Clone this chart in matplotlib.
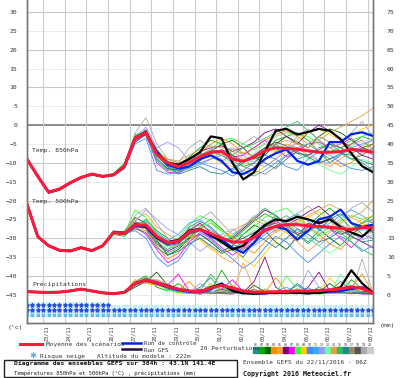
import matplotlib.pyplot as plt
import numpy as np
from matplotlib.patches import Rectangle
from matplotlib.transforms import ScaledTranslation

plt.rcParams["font.family"] = ["DejaVu Sans Mono"]

# forecast steps (hours after 22/11/2016 06Z), 12h resolution
hours = np.arange(0, 385, 12)
day_labels = ["23/11", "24/11", "25/11", "26/11", "27/11", "28/11", "29/11", "30/11",
              "01/12", "02/12", "03/12", "04/12", "05/12", "06/12", "07/12", "08/12"]
day_hours = np.arange(18, 384, 24)

# --- 850 hPa temperature (°C)
t850_mean = [-9.0, -13.6, -17.8, -17.0, -15.3, -13.9, -13.0, -13.6, -13.2, -11.0, -3.5, -2.0, -7.7,
             -10.0, -11.0, -10.0, -8.3, -7.2, -7.0, -9.0, -9.6, -8.5, -6.8, -6.0, -6.2, -6.4, -6.8,
             -7.2, -7.2, -7.0, -6.4, -6.8, -7.2]
t850_ctrl = [-9.0, -13.6, -17.8, -17.0, -15.3, -13.9, -13.0, -13.6, -13.2, -11.0, -3.6, -2.2, -7.0,
             -10.5, -11.5, -11.0, -9.0, -8.0, -9.5, -12.5, -13.0, -11.5, -9.0, -7.5, -6.4, -9.5, -10.5,
             -9.5, -4.5, -4.5, -2.4, -1.9, -2.9]
t850_gfs = [-9.0, -13.6, -17.8, -17.0, -15.3, -13.9, -13.0, -13.6, -13.2, -11.0, -3.4, -1.8, -7.5,
            -10.0, -10.5, -9.0, -7.2, -3.0, -3.5, -10.0, -14.4, -12.5, -7.0, -1.5, -1.0, -2.5, -1.8,
            -1.0, -1.5, -3.7, -7.5, -10.9, -12.5]
t850_members = [
    [-9.2, -13.8, -18.0, -17.3, -15.5, -14.0, -13.2, -13.8, -13.0, -10.5, -3.0, -1.5, -8.0, -11.0, -12.0, -10.5, -9.0, -8.0, -10.0, -12.0, -10.0, -8.0, -6.0, -5.0, -7.0, -9.0, -8.0, -6.0, -5.0, -7.0, -9.0, -8.0, -6.0],
    [-8.8, -13.5, -17.6, -16.8, -15.1, -13.7, -12.8, -13.5, -12.8, -10.2, -2.5, -1.8, -6.5, -9.5, -10.5, -8.5, -6.0, -4.0, -5.0, -8.0, -11.0, -10.0, -7.0, -4.0, -3.0, -2.0, -4.0, -7.0, -10.0, -8.0, -5.0, -3.0, -4.0],
    [-9.0, -13.7, -17.9, -17.1, -15.4, -14.0, -13.1, -13.7, -13.4, -11.5, -4.5, -2.5, -9.0, -11.5, -12.0, -11.0, -9.5, -7.0, -5.0, -4.0, -6.0, -9.0, -8.0, -5.0, -3.0, -4.5, -6.0, -3.0, -1.0, -2.0, -4.0, -6.0, -5.0],
    [-9.1, -13.6, -17.7, -16.9, -15.2, -13.8, -12.9, -13.6, -13.1, -10.8, -3.2, -2.2, -7.5, -9.0, -10.0, -9.0, -7.5, -5.0, -3.5, -5.0, -7.5, -6.0, -4.0, -2.5, -1.5, -3.0, -5.0, -7.0, -9.0, -11.0, -10.0, -7.0, -5.0],
    [-9.0, -13.4, -17.5, -16.7, -15.0, -13.6, -12.7, -13.4, -13.0, -11.2, -3.8, -2.8, -8.5, -12.0, -12.5, -11.5, -10.0, -9.0, -8.0, -7.0, -9.0, -11.0, -9.5, -7.0, -5.0, -6.0, -8.0, -9.5, -11.0, -9.0, -7.0, -5.5, -4.0],
    [-8.9, -13.9, -18.1, -17.2, -15.3, -13.9, -13.0, -13.5, -13.3, -11.0, -3.6, -1.2, -7.0, -10.0, -11.5, -10.0, -7.0, -6.0, -5.5, -7.0, -6.0, -4.5, -2.0, -1.0, -3.0, -5.0, -2.0, 0.0, -1.5, -4.0, -6.0, -8.0, -9.0],
    [-9.1, -13.5, -17.8, -17.0, -15.2, -13.9, -13.0, -13.6, -13.1, -11.3, -4.2, -2.5, -10.0, -12.5, -12.8, -11.0, -8.0, -6.5, -7.0, -8.5, -8.0, -6.0, -4.0, -6.0, -8.5, -7.0, -5.0, -4.5, -6.0, -5.0, -3.5, -6.0, -7.5],
    [-9.0, -13.6, -17.7, -17.0, -15.4, -14.1, -13.2, -13.7, -13.2, -10.7, -2.8, -1.5, -7.8, -10.5, -11.2, -9.5, -8.0, -6.5, -4.0, -3.5, -5.0, -6.5, -5.0, -3.0, -2.0, -2.5, -3.0, -5.0, -7.0, -6.0, -4.0, -3.0, -2.0],
    [-9.0, -13.6, -17.8, -17.0, -15.3, -13.9, -13.0, -13.7, -13.2, -11.0, -3.4, -2.0, -7.2, -9.5, -10.8, -10.0, -9.0, -8.5, -10.0, -11.0, -12.0, -13.0, -11.0, -9.0, -7.0, -4.0, -2.0, -1.0, -2.5, -4.0, -3.0, -1.0, 0.0],
    [-9.0, -13.7, -17.9, -17.1, -15.3, -13.9, -13.0, -13.6, -13.2, -11.6, -5.0, -3.5, -12.0, -13.0, -12.5, -11.0, -10.0, -11.0, -12.0, -13.5, -12.0, -10.0, -8.0, -9.0, -11.0, -12.0, -9.0, -7.0, -8.0, -10.0, -11.5, -12.0, -11.0],
    [-9.1, -13.6, -17.8, -17.0, -15.3, -13.8, -13.0, -13.6, -13.3, -11.0, -3.4, -2.0, -9.0, -11.8, -12.2, -11.5, -10.5, -9.0, -8.0, -10.0, -12.5, -13.5, -12.0, -10.0, -8.0, -6.0, -5.0, -7.0, -9.0, -8.0, -6.0, -5.0, -4.0],
    [-9.0, -13.5, -17.8, -17.0, -15.2, -13.9, -13.1, -13.6, -13.2, -11.1, -3.3, -0.5, -6.0, -4.5, -6.0, -9.5, -10.0, -9.0, -7.0, -6.0, -8.0, -10.0, -11.0, -9.0, -6.0, -5.0, -7.0, -9.5, -10.0, -8.0, -6.0, -6.5, -8.0],
    [-8.9, -13.6, -17.8, -17.0, -15.3, -14.0, -13.0, -13.6, -13.2, -11.0, -3.4, -2.0, -8.0, -10.5, -11.5, -10.5, -9.0, -8.0, -7.0, -9.0, -10.5, -9.0, -7.0, -5.5, -6.0, -7.5, -9.0, -10.5, -12.0, -13.0, -11.0, -9.0, -10.0],
    [-9.0, -13.6, -17.7, -17.0, -15.3, -13.9, -13.0, -13.6, -13.2, -11.0, -3.4, -2.0, -7.0, -9.0, -9.5, -8.0, -6.5, -5.5, -6.0, -6.5, -7.5, -8.0, -6.5, -5.0, -4.0, -5.0, -6.0, -4.0, -2.0, -0.5, 1.0, 2.5, 4.5],
    [-9.0, -13.6, -17.8, -17.1, -15.3, -13.9, -13.0, -13.6, -13.1, -10.9, -3.0, -2.6, -9.5, -12.0, -11.0, -9.0, -7.5, -8.0, -9.5, -8.0, -6.0, -5.0, -3.5, -2.0, -0.5, 1.0, -1.5, -4.0, -6.0, -7.5, -9.0, -10.0, -12.0],
    [-9.0, -13.6, -17.8, -17.0, -15.3, -13.9, -13.0, -13.6, -13.2, -11.2, -3.9, -2.4, -8.2, -11.0, -13.0, -12.0, -11.0, -12.5, -13.0, -11.5, -9.5, -8.5, -10.0, -11.5, -9.0, -7.0, -8.5, -10.0, -9.0, -7.5, -8.0, -9.5, -10.5],
    [-9.0, -13.6, -17.8, -17.0, -15.3, -13.9, -13.0, -13.6, -13.2, -11.0, -3.5, -1.8, -7.0, -9.8, -10.5, -9.5, -8.0, -7.0, -8.0, -9.5, -11.0, -12.0, -13.0, -11.0, -8.0, -6.5, -5.0, -3.0, -4.5, -6.0, -5.0, -4.0, -6.5],
    [-9.0, -13.6, -17.8, -17.0, -15.3, -13.9, -13.0, -13.6, -13.2, -11.0, -3.4, -2.2, -7.5, -10.2, -11.0, -10.0, -8.5, -7.5, -6.5, -8.0, -9.5, -8.0, -6.0, -4.5, -5.5, -7.5, -8.0, -6.5, -5.0, -6.0, -7.5, -6.0, -7.0],
    [-9.0, -13.6, -17.8, -17.0, -15.3, -13.9, -13.0, -13.6, -13.2, -10.8, -2.0, 2.0, -5.0, -9.0, -10.0, -6.0, -4.0, -6.0, -8.0, -7.0, -5.0, -3.0, -5.0, -7.0, -6.0, -3.0, -1.0, -4.0, -6.0, -5.0, -2.0, 1.0, -3.0],
    [-9.0, -13.6, -17.8, -17.0, -15.3, -13.9, -13.0, -13.6, -13.2, -11.0, -3.4, -2.0, -8.0, -10.0, -11.0, -10.0, -9.0, -8.0, -9.0, -10.0, -9.0, -7.5, -5.0, -3.0, -2.0, -3.5, -5.0, -6.5, -8.0, -7.0, -5.5, -4.5, -3.5],
]

# --- 500 hPa temperature (°C)
t500_mean = [-21.0, -29.6, -32.0, -33.2, -33.4, -32.5, -33.3, -32.0, -28.5, -28.8, -26.5, -26.5, -29.5,
             -31.2, -30.8, -28.3, -27.7, -28.8, -30.0, -31.0, -31.0, -29.8, -28.0, -26.8, -26.4, -26.4,
             -26.7, -26.9, -27.1, -27.4, -27.7, -27.2, -27.2]
t500_ctrl = [-21.0, -29.6, -32.0, -33.2, -33.4, -32.5, -33.3, -32.0, -28.5, -28.8, -26.8, -27.0, -30.0,
             -31.5, -31.0, -28.5, -27.7, -29.5, -30.4, -32.5, -33.9, -31.2, -27.7, -26.9, -27.7, -30.4,
             -28.0, -25.0, -24.3, -22.4, -26.0, -27.0, -26.4]
t500_gfs = [-21.0, -29.6, -32.0, -33.2, -33.4, -32.5, -33.3, -32.0, -28.5, -28.8, -26.3, -26.8, -29.8,
            -31.0, -30.5, -28.0, -27.5, -29.0, -31.0, -33.0, -32.0, -29.0, -26.5, -25.0, -25.5, -24.3,
            -25.0, -26.0, -25.0, -27.0, -28.5, -29.6, -27.0]
t500_members = [
    [-21.2, -29.8, -32.2, -33.4, -33.6, -32.7, -33.5, -31.8, -28.0, -28.5, -25.5, -27.0, -31.0, -33.0, -31.5, -27.0, -25.5, -27.0, -30.0, -33.0, -35.0, -31.0, -27.0, -24.0, -26.0, -29.0, -31.0, -28.0, -25.0, -23.5, -26.0, -29.0, -30.0],
    [-20.8, -29.4, -31.8, -33.0, -33.2, -32.3, -33.1, -32.3, -29.0, -29.5, -27.0, -25.0, -28.0, -30.0, -32.0, -30.0, -27.0, -25.0, -27.5, -30.5, -28.0, -25.5, -23.5, -25.0, -28.0, -30.5, -27.0, -24.0, -22.0, -24.5, -27.5, -26.0, -24.0],
    [-21.0, -29.7, -32.1, -33.3, -33.5, -32.4, -33.2, -32.1, -28.3, -28.2, -24.5, -26.0, -30.5, -34.5, -33.0, -30.0, -29.0, -31.0, -33.5, -32.0, -29.0, -26.5, -28.0, -31.0, -33.0, -29.5, -26.0, -27.5, -30.0, -32.0, -29.0, -27.0, -28.5],
    [-21.1, -29.5, -31.9, -33.1, -33.3, -32.6, -33.4, -32.2, -28.7, -29.0, -27.5, -28.0, -32.0, -35.5, -34.0, -30.5, -27.5, -26.0, -28.0, -29.5, -32.0, -34.0, -31.0, -28.0, -25.5, -24.0, -26.5, -29.0, -31.5, -33.0, -30.0, -27.5, -25.0],
    [-21.0, -29.6, -32.0, -33.2, -33.4, -32.5, -33.3, -32.0, -28.4, -28.6, -25.0, -23.5, -27.0, -29.0, -30.5, -29.0, -30.0, -32.5, -35.0, -36.5, -33.0, -30.0, -28.5, -27.0, -28.5, -31.0, -33.5, -31.0, -28.5, -26.0, -24.5, -26.0, -27.5],
    [-20.9, -29.6, -32.1, -33.2, -33.5, -32.6, -33.2, -31.9, -28.6, -28.9, -26.8, -27.5, -31.5, -33.5, -32.0, -28.0, -26.0, -28.5, -31.0, -30.0, -27.5, -25.0, -22.5, -24.0, -26.5, -25.0, -23.0, -21.5, -24.0, -27.0, -29.5, -31.0, -32.5],
    [-21.0, -29.6, -32.0, -33.2, -33.4, -32.5, -33.3, -32.0, -28.5, -28.8, -27.0, -29.0, -33.0, -36.5, -35.0, -31.0, -28.5, -30.0, -32.5, -34.5, -32.5, -30.0, -27.0, -25.5, -27.0, -28.5, -27.0, -25.5, -27.5, -30.0, -32.5, -29.5, -28.0],
    [-21.0, -29.6, -32.0, -33.2, -33.4, -32.5, -33.3, -32.0, -28.5, -28.8, -22.5, -24.5, -28.5, -31.0, -30.0, -26.5, -24.0, -25.5, -28.0, -30.0, -29.0, -27.0, -24.5, -23.0, -22.0, -24.5, -27.0, -29.5, -28.0, -25.5, -24.0, -25.0, -26.0],
    [-21.0, -29.6, -32.0, -33.2, -33.4, -32.5, -33.3, -32.0, -28.5, -28.8, -26.0, -26.5, -29.5, -31.5, -31.0, -29.5, -30.5, -33.0, -34.0, -32.5, -35.5, -37.5, -34.0, -30.5, -28.0, -26.0, -24.5, -23.0, -25.5, -28.5, -27.0, -25.0, -24.0],
    [-21.0, -29.6, -32.0, -33.2, -33.4, -32.5, -33.3, -32.0, -28.5, -28.8, -28.0, -30.0, -35.0, -37.5, -36.0, -32.0, -29.0, -30.5, -33.0, -35.5, -38.0, -36.0, -32.5, -29.5, -31.0, -34.0, -36.5, -34.0, -31.5, -29.5, -31.0, -33.5, -32.0],
    [-21.0, -29.6, -32.0, -33.2, -33.4, -32.5, -33.3, -32.0, -28.5, -28.8, -26.5, -25.5, -28.5, -30.5, -29.0, -26.0, -25.0, -27.5, -29.5, -31.5, -33.5, -31.5, -29.0, -27.0, -25.0, -23.5, -25.5, -28.0, -26.0, -24.0, -22.5, -24.0, -26.0],
    [-21.0, -29.6, -32.0, -33.2, -33.4, -32.5, -33.3, -32.0, -28.5, -28.8, -25.5, -22.5, -25.0, -27.5, -29.0, -31.0, -33.5, -31.5, -29.0, -27.5, -29.5, -32.0, -30.0, -27.5, -25.0, -27.5, -30.0, -32.0, -29.5, -27.0, -28.5, -30.5, -29.0],
    [-21.0, -29.6, -32.0, -33.2, -33.4, -32.5, -33.3, -32.0, -28.5, -28.8, -26.5, -26.0, -30.0, -32.5, -31.5, -29.0, -27.0, -26.0, -28.5, -31.0, -30.0, -28.0, -26.0, -24.5, -26.0, -28.0, -30.0, -32.0, -34.0, -32.0, -29.5, -27.5, -29.0],
    [-21.0, -29.6, -32.0, -33.2, -33.4, -32.5, -33.3, -32.0, -28.5, -28.8, -27.0, -27.5, -30.5, -32.0, -30.5, -28.0, -27.5, -29.0, -30.0, -28.0, -26.5, -25.0, -26.5, -28.0, -27.0, -25.5, -24.0, -22.5, -21.0, -22.5, -24.5, -23.0, -20.0],
    [-21.0, -29.6, -32.0, -33.2, -33.4, -32.5, -33.3, -32.0, -28.5, -28.8, -26.0, -27.0, -31.5, -34.0, -32.5, -29.5, -28.0, -29.5, -31.5, -29.5, -27.0, -24.5, -22.0, -24.0, -26.5, -29.0, -31.5, -29.0, -27.0, -28.5, -31.0, -33.0, -34.5],
    [-21.0, -29.6, -32.0, -33.2, -33.4, -32.5, -33.3, -32.0, -28.5, -28.8, -27.5, -28.5, -32.5, -34.5, -33.5, -31.5, -30.0, -32.0, -34.0, -33.0, -31.0, -29.0, -30.5, -32.5, -30.0, -27.5, -29.0, -31.0, -30.0, -28.0, -29.5, -31.0, -30.5],
    [-21.0, -29.6, -32.0, -33.2, -33.4, -32.5, -33.3, -32.0, -28.5, -28.8, -25.8, -26.0, -29.0, -31.0, -30.5, -27.5, -26.5, -28.0, -29.5, -31.5, -33.0, -31.0, -28.0, -25.5, -24.0, -26.0, -28.5, -26.5, -24.5, -26.5, -28.0, -26.0, -25.0],
    [-21.0, -29.6, -32.0, -33.2, -33.4, -32.5, -33.3, -32.0, -28.5, -28.8, -26.5, -27.0, -30.0, -32.0, -31.5, -29.0, -28.0, -29.0, -30.5, -31.0, -30.0, -28.5, -27.0, -26.0, -27.5, -29.0, -28.0, -26.5, -27.5, -29.0, -28.0, -27.0, -28.0],
    [-21.0, -29.6, -32.0, -33.2, -33.4, -32.5, -33.3, -32.0, -28.5, -28.8, -24.0, -22.0, -26.0, -30.0, -32.0, -28.0, -25.0, -23.0, -26.0, -29.0, -27.0, -24.0, -25.5, -28.5, -27.0, -23.5, -21.5, -24.0, -27.0, -25.0, -22.0, -20.5, -23.0],
    [-21.0, -29.6, -32.0, -33.2, -33.4, -32.5, -33.3, -32.0, -28.5, -28.8, -26.5, -26.5, -29.0, -31.0, -30.5, -28.5, -27.5, -28.5, -30.0, -30.5, -31.5, -30.0, -28.5, -27.5, -26.0, -25.5, -27.0, -28.5, -27.5, -26.5, -27.0, -28.0, -27.5],
]

# --- precipitation (mm)
rr_mean = [0.8, 0.7, 0.6, 0.7, 1.0, 1.5, 1.0, 0.5, 0.3, 0.6, 3.0, 3.9, 3.2, 2.2, 1.5, 1.0, 0.8, 1.8,
           2.5, 1.8, 1.0, 0.7, 0.7, 0.8, 0.9, 1.0, 1.0, 1.1, 1.3, 1.6, 2.1, 1.7, 0.4]
rr_ctrl = [0.8, 0.7, 0.6, 0.7, 1.0, 1.5, 1.0, 0.5, 0.3, 0.6, 3.0, 4.0, 3.0, 2.0, 1.2, 0.8, 0.6, 1.5,
           3.0, 1.2, 0.5, 0.3, 0.4, 0.6, 0.8, 0.5, 0.4, 0.6, 0.8, 1.0, 1.5, 2.0, 0.6]
rr_gfs = [0.8, 0.7, 0.6, 0.7, 1.0, 1.5, 1.0, 0.5, 0.3, 0.6, 3.1, 3.8, 3.2, 2.4, 1.5, 1.0, 0.7, 2.0,
          2.8, 1.0, 0.4, 0.3, 0.4, 0.5, 0.6, 0.5, 0.4, 0.5, 1.0, 2.0, 6.5, 3.0, 0.5]
rr_members = [
    [0.8, 0.6, 0.5, 0.7, 1.1, 1.6, 0.9, 0.4, 0.2, 0.5, 2.5, 4.5, 3.0, 1.5, 0.8, 0.5, 2.0, 4.5, 1.0, 0.3, 0.5, 1.5, 0.4, 0.2, 0.8, 2.5, 0.6, 0.3, 1.0, 3.5, 1.2, 0.5, 0.2],
    [0.7, 0.7, 0.6, 0.6, 0.9, 1.4, 1.0, 0.5, 0.3, 0.8, 3.5, 5.0, 2.0, 1.0, 3.0, 0.8, 0.3, 1.0, 6.5, 2.0, 0.5, 0.2, 1.5, 0.5, 0.3, 0.8, 0.4, 2.0, 0.6, 0.3, 4.0, 1.5, 0.3],
    [0.8, 0.7, 0.6, 0.7, 1.0, 1.5, 1.0, 0.5, 0.3, 0.4, 2.0, 3.5, 6.0, 2.5, 1.0, 0.4, 0.2, 0.5, 1.5, 0.5, 0.2, 2.5, 0.8, 0.3, 1.2, 0.5, 0.2, 0.6, 3.0, 0.8, 0.3, 1.0, 0.4],
    [0.8, 0.7, 0.6, 0.7, 1.0, 1.5, 1.0, 0.5, 0.3, 0.6, 4.0, 3.0, 2.5, 1.8, 1.2, 3.5, 0.6, 0.2, 0.8, 2.5, 0.6, 0.2, 0.5, 4.5, 1.0, 0.3, 0.6, 0.3, 0.8, 0.5, 2.0, 5.5, 0.5],
    [0.8, 0.7, 0.6, 0.7, 1.0, 1.5, 1.0, 0.5, 0.3, 0.6, 3.0, 4.0, 4.0, 3.0, 1.5, 0.8, 0.4, 3.0, 1.0, 0.5, 8.5, 1.5, 0.4, 0.2, 0.5, 1.5, 0.5, 0.2, 1.5, 0.4, 0.2, 0.6, 0.3],
    [0.8, 0.7, 0.6, 0.7, 1.0, 1.5, 1.0, 0.5, 0.3, 0.6, 2.5, 3.5, 2.8, 2.0, 1.0, 0.5, 1.5, 0.5, 0.3, 0.2, 0.6, 3.5, 10.0, 2.0, 0.4, 0.2, 2.0, 6.0, 1.0, 0.3, 0.5, 0.2, 0.2],
    [0.8, 0.7, 0.6, 0.7, 1.0, 1.5, 1.0, 0.5, 0.3, 0.6, 3.2, 4.2, 3.6, 2.5, 5.5, 1.0, 0.3, 0.6, 1.5, 4.0, 0.8, 0.3, 0.2, 0.5, 1.0, 0.4, 0.3, 0.5, 1.5, 0.6, 0.4, 0.8, 0.2],
    [0.8, 0.7, 0.6, 0.7, 1.0, 1.5, 1.0, 0.5, 0.3, 0.6, 3.0, 4.8, 3.0, 1.2, 0.5, 0.3, 0.8, 2.5, 0.6, 0.3, 0.5, 0.8, 0.4, 0.3, 5.0, 1.5, 0.4, 0.2, 0.3, 1.0, 2.5, 0.5, 0.1],
    [0.8, 0.7, 0.6, 0.7, 1.0, 1.5, 1.0, 0.5, 0.3, 0.6, 2.8, 3.6, 3.2, 2.4, 1.5, 0.8, 1.0, 0.5, 0.3, 0.4, 0.5, 0.6, 1.5, 0.5, 0.2, 0.3, 0.4, 1.0, 4.5, 1.5, 0.5, 0.4, 0.3],
    [0.8, 0.7, 0.6, 0.7, 1.0, 1.5, 1.0, 0.5, 0.3, 0.6, 3.4, 3.8, 3.4, 2.6, 1.6, 1.0, 0.6, 0.8, 0.5, 1.8, 0.6, 0.3, 0.8, 0.4, 0.3, 0.6, 1.8, 0.5, 0.3, 0.4, 0.6, 0.3, 0.2],
    [0.8, 0.7, 0.6, 0.7, 1.0, 1.5, 1.0, 0.5, 0.3, 0.6, 3.0, 3.9, 3.1, 2.0, 1.2, 0.6, 0.4, 1.5, 0.6, 0.3, 0.5, 1.0, 0.3, 0.8, 2.0, 0.5, 0.4, 1.5, 0.5, 0.3, 1.0, 0.4, 0.2],
    [0.8, 0.7, 0.6, 0.7, 1.0, 1.5, 1.0, 0.5, 0.3, 0.6, 2.6, 3.4, 3.8, 2.8, 1.0, 0.5, 3.0, 1.0, 0.5, 0.3, 0.4, 0.5, 0.3, 0.6, 0.4, 0.3, 6.5, 2.0, 0.6, 0.3, 0.4, 0.7, 0.3],
    [0.8, 0.7, 0.6, 0.7, 1.0, 1.5, 1.0, 0.5, 0.3, 0.6, 3.1, 4.1, 3.3, 2.2, 1.4, 0.9, 0.5, 0.4, 2.5, 0.8, 0.4, 0.3, 0.5, 0.4, 0.3, 0.5, 0.4, 0.3, 0.6, 5.5, 1.5, 0.5, 0.3],
    [0.8, 0.7, 0.6, 0.7, 1.0, 1.5, 1.0, 0.5, 0.3, 0.6, 2.9, 3.7, 3.0, 2.1, 1.3, 0.7, 0.4, 0.6, 0.5, 0.4, 1.2, 0.4, 0.3, 0.5, 0.4, 0.8, 0.5, 0.4, 0.3, 0.5, 0.6, 1.5, 0.4],
    [0.8, 0.7, 0.6, 0.7, 1.0, 1.5, 1.0, 0.5, 0.3, 0.6, 3.3, 4.3, 3.5, 2.3, 1.1, 0.6, 0.9, 5.5, 2.0, 0.6, 0.3, 0.4, 0.6, 0.3, 0.2, 0.5, 0.3, 0.4, 0.9, 0.6, 0.5, 0.3, 0.2],
    [0.8, 0.7, 0.6, 0.7, 1.0, 1.5, 1.0, 0.5, 0.3, 0.6, 3.0, 4.0, 3.2, 2.2, 1.5, 1.0, 0.6, 0.4, 0.5, 0.6, 0.4, 0.5, 0.3, 0.4, 0.5, 3.0, 0.8, 0.3, 0.5, 0.4, 0.3, 0.4, 0.3],
    [0.8, 0.7, 0.6, 0.7, 1.0, 1.5, 1.0, 0.5, 0.3, 0.6, 2.7, 3.3, 2.9, 2.0, 1.3, 0.7, 0.5, 0.6, 0.4, 0.3, 0.5, 0.4, 0.6, 0.3, 0.4, 0.5, 0.4, 0.3, 0.5, 0.4, 1.8, 0.6, 0.3],
    [0.8, 0.7, 0.6, 0.7, 1.0, 1.5, 1.0, 0.5, 0.3, 0.6, 3.0, 3.9, 3.2, 2.2, 1.5, 1.0, 0.8, 0.6, 0.5, 0.4, 0.6, 0.5, 0.4, 0.5, 0.6, 0.5, 0.4, 0.5, 0.6, 0.5, 0.4, 0.5, 0.3],
    [0.8, 0.7, 0.6, 0.7, 1.0, 1.5, 1.0, 0.5, 0.3, 0.6, 3.5, 4.6, 3.8, 1.8, 0.9, 0.5, 0.3, 0.5, 1.0, 0.4, 0.3, 0.6, 0.4, 0.3, 0.5, 0.4, 0.3, 0.5, 0.4, 0.3, 0.5, 9.5, 0.5],
    [0.8, 0.7, 0.6, 0.7, 1.0, 1.5, 1.0, 0.5, 0.3, 0.6, 3.0, 3.9, 3.2, 2.2, 1.5, 1.0, 0.8, 1.8, 2.5, 1.8, 1.0, 0.7, 0.7, 0.8, 0.9, 1.0, 1.0, 1.1, 1.3, 1.6, 2.1, 1.7, 0.4],
]

member_colors = ["#2e8b8b", "#00b000", "#006400", "#ff8c00", "#ffa040", "#800080", "#ff00ff",
                 "#33ff33", "#ffcc00", "#4488ff", "#33aaff", "#9999ff", "#66ff99", "#e0a040",
                 "#33bb66", "#228888", "#998866", "#555555", "#aaaaaa", "#cccccc"]
member_names = ["%02d" % (i + 1) for i in range(20)]

# snow risk, 6h steps: 3 = high (tall cell), 2 = lower
snow_hours = np.arange(0, 385, 6)
snow_level = [3] * 16 + [2] * 49

mean_color = "#ff1a3c"
ctrl_color = "#0022ee"
gfs_color = "#000000"

fig = plt.figure(figsize=(4, 3.78), dpi=100)
ax = fig.add_axes([27 / 400, 55 / 378, 346 / 400, 323 / 378])
ax.set_xlim(0, 384)
ax.set_ylim(-52.5, 33.2)

# grid
for v in range(-45, 31, 5):
    if v == 0:
        ax.axhline(v, color="#8c8c8c", lw=1.4, zorder=1)
    elif v % 10 == 0:
        ax.axhline(v, color="#c8c8c8", lw=0.8, zorder=1)
    else:
        ax.axhline(v, color="#d4d4d4", lw=0.6, ls=(0, (1, 1)), zorder=1)
for h in day_hours:
    ax.axvline(h, color="#cccccc", lw=0.8, zorder=1)

# snow risk band
ax.bar(snow_hours, [4.0 if s == 3 else 3.2 for s in snow_level], bottom=-51.0, width=5,
       color="#c4eef2", zorder=2)
ax.scatter(snow_hours, np.full(len(snow_hours), -50.3), marker="s", s=4, color="#66bbee", zorder=3)
ax.scatter(snow_hours, np.full(len(snow_hours), -49.0), marker="*", s=7, color="#2a4fd8", zorder=3)
hi = [h for h, s in zip(snow_hours, snow_level) if s == 3]
ax.scatter(hi, np.full(len(hi), -47.8), marker="*", s=7, color="#2a4fd8", zorder=3)

# temperatures on left axis
for vals, c in zip(t850_members, member_colors):
    ax.plot(hours, vals, color=c, lw=0.6, zorder=4)
for vals, c in zip(t500_members, member_colors):
    ax.plot(hours, vals, color=c, lw=0.6, zorder=4)
for series in (t850_ctrl, t500_ctrl):
    ax.plot(hours, series, color=ctrl_color, lw=1.6, zorder=5)
for series in (t850_gfs, t500_gfs):
    ax.plot(hours, series, color=gfs_color, lw=1.6, zorder=5)
for series in (t850_mean, t500_mean):
    ax.plot(hours, series, color=mean_color, lw=2.2, zorder=6)

# precipitation on right axis (same pixel scale, shifted by 45)
ax2 = ax.twinx()
ax2.set_ylim(-52.5 + 45, 33.2 + 45)
for vals, c in zip(rr_members, member_colors):
    ax2.plot(hours, vals, color=c, lw=0.6, zorder=4)
ax2.plot(hours, rr_ctrl, color=ctrl_color, lw=1.6, zorder=5)
ax2.plot(hours, rr_gfs, color=gfs_color, lw=1.6, zorder=5)
ax2.plot(hours, rr_mean, color=mean_color, lw=2.2, zorder=6)

# axes styling
ax.set_yticks(range(-45, 31, 5))
ax.tick_params(axis="y", labelsize=4.6, length=0, pad=7, colors="#333333")
ax2.set_yticks(range(0, 76, 5))
ax2.tick_params(axis="y", labelsize=4.6, length=0, pad=10, colors="#333333")
ax.set_xticks(day_hours)
ax.set_xticklabels(day_labels, rotation=90, fontsize=3.7, color="#333333")
ax.tick_params(axis="x", length=0, pad=1.5)
for lbl in ax.get_xticklabels():
    lbl.set_transform(lbl.get_transform() + ScaledTranslation(0.035, 0, fig.dpi_scale_trans))
for a in (ax, ax2):
    a.spines["top"].set_visible(False)
    for s in ("left", "right", "bottom"):
        a.spines[s].set_color("#777777")
        a.spines[s].set_linewidth(1.0)

ax.text(6, -7.2, "Temp. 850hPa", fontsize=4.6, color="#333333", zorder=7)
ax.text(6, -20.6, "Temp. 500hPa", fontsize=4.6, color="#333333", zorder=7)
ax.text(6, -42.6, "Précipitations", fontsize=4.6, color="#333333", zorder=7)

fig.text(15 / 400, 1 - 327 / 378, "(°c)", fontsize=4.6, ha="center", va="center", color="#333333")
fig.text(387 / 400, 1 - 326 / 378, "(mm)", fontsize=4.6, ha="center", va="center", color="#333333")


# legend area (figure pixel coordinates)
def fx(px):
    return px / 400


def fy(py):
    return 1 - py / 378


fig.lines.append(plt.Line2D([fx(20), fx(42)], [fy(344), fy(344)], color=mean_color, lw=2.2,
                            transform=fig.transFigure))
fig.text(fx(46), fy(344), "Moyenne des scénarios", fontsize=4.4, va="center", color="#333333")
fig.lines.append(plt.Line2D([fx(122), fx(141)], [fy(343), fy(343)], color=ctrl_color, lw=1.8,
                            transform=fig.transFigure))
fig.lines.append(plt.Line2D([fx(122), fx(141)], [fy(349), fy(349)], color="#201040", lw=1.8,
                            transform=fig.transFigure))
fig.text(fx(144), fy(343.5), "Run de contrôle", fontsize=4.2, va="center", color="#333333")
fig.text(fx(144), fy(350), "Run GFS", fontsize=4.2, va="center", color="#333333")
fig.text(fx(33), fy(356), "✱", fontsize=6, va="center", ha="center", color="#55aaee",
         family=["DejaVu Sans"])
fig.text(fx(40), fy(356.5), "Risque neige", fontsize=4.4, va="center", color="#333333")
fig.text(fx(97), fy(356.5), "Altitude du modele : 222m", fontsize=4.4, va="center", color="#333333")
fig.text(fx(200), fy(348.5), "20 Perturbations", fontsize=4.4, va="center", color="#333333")
for i, (name, c) in enumerate(zip(member_names, member_colors)):
    x0 = 253 + i * 6
    fig.patches.append(Rectangle((fx(x0), fy(353)), fx(5.5), 6 / 378, color=c,
                                 transform=fig.transFigure))
    fig.text(fx(x0 + 2.75), fy(344.5), name, fontsize=2.3, ha="center", va="center",
             color="#333333")

fig.patches.append(Rectangle((fx(4), fy(377)), fx(233), 17 / 378, fill=False, ec="#222222",
                             lw=1.0, transform=fig.transFigure))
fig.text(fx(14), fy(364), "Diagramme des ensembles GEFS sur 384h : 43.1N 141.4E", fontsize=4.6,
         weight="bold", va="center", color="#111111")
fig.text(fx(14), fy(373.5), "Températures 850hPa et 500hPa (°C) , précipitations (mm)",
         fontsize=4.0, va="center", color="#222222")
fig.text(fx(243), fy(362), "Ensemble GEFS du 22/11/2016 - 06Z", fontsize=4.4, va="center",
         color="#333333")
fig.text(fx(243), fy(373.5), "Copyright 2016 Meteociel.fr", fontsize=4.8, weight="bold",
         va="center", color="#111111")

fig.savefig("out.png", dpi=100, facecolor="white")
